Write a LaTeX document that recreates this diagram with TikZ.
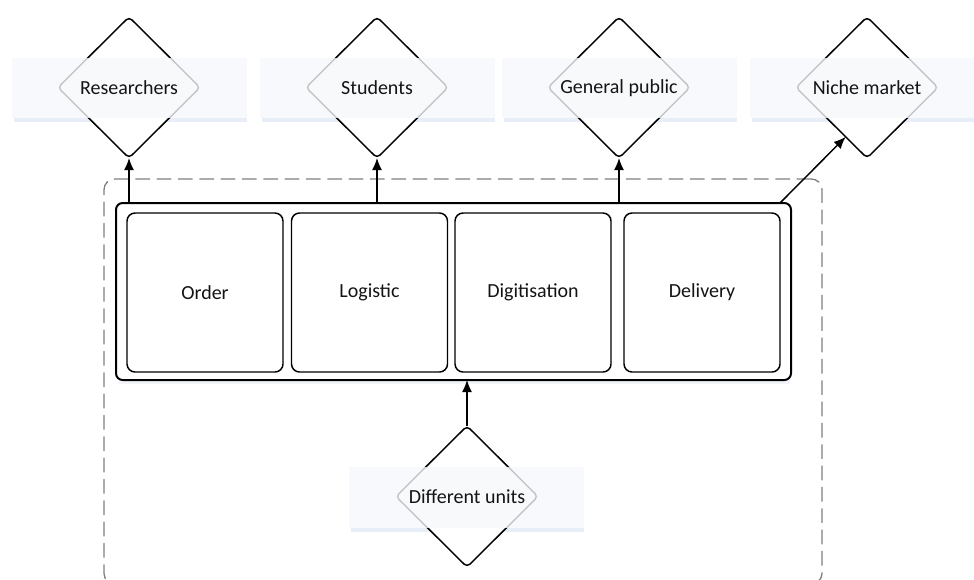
\documentclass[tikz,border=0pt]{standalone}
\usepackage{fontspec}
\setmainfont{Carlito}
\usetikzlibrary{shapes.geometric,arrows.meta,calc}
\newdimen\pxu \pxu=0.75pt
\definecolor{bandfill}{HTML}{F5F8FB}
\definecolor{shadowblue}{HTML}{E8EEF7}
\definecolor{dashgray}{HTML}{808080}
\definecolor{txt}{HTML}{141414}
\begin{document}
\begin{tikzpicture}[x=0.75pt,y=-0.75pt,
  every node/.style={inner sep=0pt, outer sep=0pt},
  dia/.style={diamond, draw=black, fill=white, line width=1.1pt, rounded corners=3pt,
    minimum width=142*\pxu, minimum height=141*\pxu},
  band/.style={rectangle, fill=bandfill, fill opacity=0.8,
    minimum width=235*\pxu, minimum height=60*\pxu},
  bandshadow/.style={rectangle, fill=shadowblue,
    minimum width=233*\pxu, minimum height=4*\pxu},
  lbl/.style={font=\fontsize{15}{18}\selectfont, text=txt},
  stage/.style={rectangle, draw=black, fill=white, line width=1.1pt, rounded corners=6pt,
    minimum width=156*\pxu, minimum height=159*\pxu,
    font=\fontsize{15}{18}\selectfont, text=txt},
  arr/.style={line width=1.1pt, -{Latex[length=9pt,width=7.5pt]}},
]
\useasboundingbox (0,0) rectangle (974,579);
\clip (0,0) rectangle (974,579);

% dashed boundary around the production chain
\node[draw=dashgray, line width=1pt, dash pattern=on 11pt off 5pt, rounded corners=8pt,
  minimum width=718*\pxu, minimum height=405*\pxu] (scope) at (463,381.5) {};

% audiences along the top
\foreach \n/\x/\t in {res/129/Researchers, stu/377/Students,
                      gen/619/General public, nic/867/Niche market}{
  \node[bandshadow] (\n-sh) at (\x+1,119.5) {};
  \node[dia] (\n) at (\x,87.5) {};
  \node[band] (\n-band) at (\x+0.5,88) {};
  \node[lbl] (\n-t) at (\x,88) {\t};
}

% production chain
\node[rectangle, fill=shadowblue, fill opacity=0.6, minimum width=671*\pxu,
  minimum height=4*\pxu] (chain-sh) at (454.5,382) {};
\node[rectangle, draw=black, fill=white, line width=1.5pt, rounded corners=5pt,
  minimum width=675*\pxu, minimum height=177*\pxu] (chain) at (453.5,291.5) {};
\node[stage] (order) at (205,292.5) {Order};
\node[stage] (logistic) at (369.5,292.5) {Logistic};
\node[stage] (digit) at (533,292.5) {Digitisation};
\node[stage] (deliv) at (702,292.5) {Delivery};

% source of items at the bottom
\node[bandshadow] (uni-sh) at (467.5,529.5) {};
\node[dia] (uni) at (467,496.5) {};
\node[band, minimum height=61*\pxu] (uni-band) at (466.5,497.5) {};
\node[lbl] (uni-t) at (467,497) {Different units};

% connectors
\foreach \n in {res,stu,gen}
  \draw[arr] (chain.north -| \n.south) -- (\n.south);
\coordinate (nic-from) at ($(chain.north east)+(-11,0)$);
\draw[arr] (nic-from) -- ($(nic.south)!0.3!(nic.west)$);
\draw[arr] (uni.north) -- (uni.north |- chain.south);
\end{tikzpicture}
\end{document}
